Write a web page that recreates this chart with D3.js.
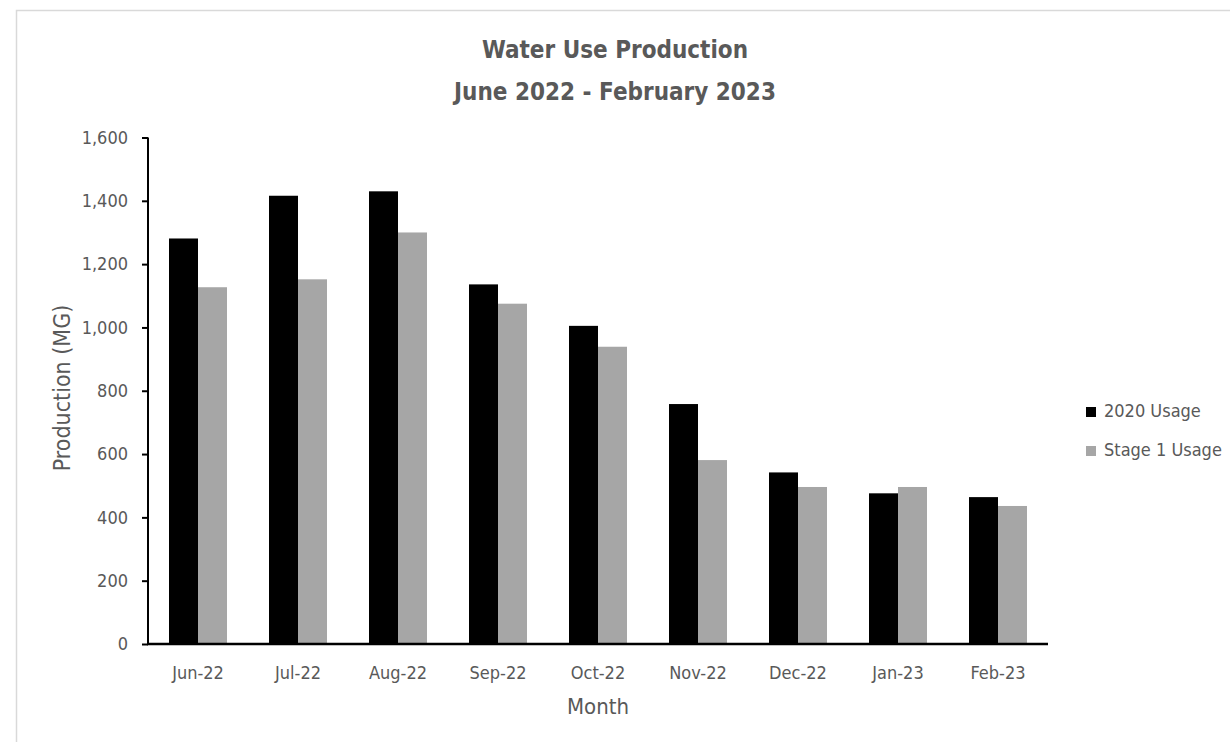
<!DOCTYPE html>
<html lang="en">
<head>
<meta charset="utf-8">
<title>Water Use Production</title>
<style type="text/css">
  body { margin: 0; background: #fff; }
  .txt { font-family: "Liberation Sans Narrow", "DejaVu Sans Condensed", sans-serif; fill: #595959; }
  .axis text { font-family: "Liberation Sans Narrow", "DejaVu Sans Condensed", sans-serif; fill: #595959; font-size: 18px; }
  .axis path, .axis line { stroke: #000; }
</style>
<script src="https://cdn.jsdelivr.net/npm/d3@7"></script>
</head>
<body>
<script type="text/javascript">

var w = 1230;
var h = 742;

// data
var months = ["Jun-22","Jul-22","Aug-22","Sep-22","Oct-22","Nov-22","Dec-22","Jan-23","Feb-23"];
var usage2020 = [1281, 1416, 1430, 1136, 1005, 758, 542, 476, 464];
var stage1 = [1127, 1152, 1300, 1075, 939, 581, 496, 496, 436];
var series = ["2020 Usage", "Stage 1 Usage"];
var yTicks = [0, 200, 400, 600, 800, 1000, 1200, 1400, 1600];

var colors = ["#000000", "#a6a6a6"];

var svg = d3.select("body")
  .append("svg")
  .attr("width", w)
  .attr("height", h);

// frame
svg.append("rect")
  .attr("x", 16.5).attr("y", 10.5)
  .attr("width", 1300).attr("height", 900)
  .attr("fill", "none")
  .attr("stroke", "#d9d9d9")
  .attr("stroke-width", 1.5);

var x0 = d3.scaleBand()
  .domain(months)
  .range([148, 1048])
  .paddingInner(0.42)
  .paddingOuter(0.21);

var x1 = d3.scaleBand()
  .domain(series)
  .range([0, x0.bandwidth()]);

var y = d3.scaleLinear()
  .domain([0, 1600])
  .range([644, 137.5]);

var rows = months.map(function(m, i) {
  return {month: m, vals: [usage2020[i], stage1[i]]};
});

var groups = svg.selectAll("g.month")
  .data(rows)
  .enter()
  .append("g")
  .attr("class", "month")
  .attr("transform", function(d) { return "translate(" + x0(d.month) + ",0)"; });

groups.selectAll("rect")
  .data(function(d) { return d.vals.map(function(v, j) { return {s: series[j], v: v, j: j}; }); })
  .enter()
  .append("rect")
  .attr("x", function(d) { return x1(d.s); })
  .attr("width", x1.bandwidth())
  .attr("y", function(d) { return y(d.v); })
  .attr("height", function(d) { return y(0) - y(d.v); })
  .attr("fill", function(d) { return colors[d.j]; });

// y axis
var yAxis = svg.append("g")
  .attr("class", "axis")
  .attr("transform", "translate(148,0)")
  .call(d3.axisLeft(y).tickValues(yTicks).tickSize(6).tickPadding(14).tickFormat(d3.format(",")));
yAxis.select(".domain").attr("stroke-width", 2).attr("d", "M0,137.5V644");
yAxis.selectAll(".tick line").attr("stroke-width", 2);

// x axis
var xAxis = svg.append("g")
  .attr("class", "axis")
  .attr("transform", "translate(0,644)")
  .call(d3.axisBottom(x0).tickSize(0).tickPadding(22));
xAxis.select(".domain").attr("stroke-width", 2.5).attr("d", "M147,0H1048");

// titles
svg.append("text").attr("class", "txt")
  .attr("x", 615).attr("y", 58)
  .attr("text-anchor", "middle")
  .attr("font-size", 24).attr("font-weight", "bold")
  .text("Water Use Production");
svg.append("text").attr("class", "txt")
  .attr("x", 615).attr("y", 100)
  .attr("text-anchor", "middle")
  .attr("font-size", 24).attr("font-weight", "bold")
  .text("June 2022 - February 2023");

svg.append("text").attr("class", "txt")
  .attr("x", 598).attr("y", 714)
  .attr("text-anchor", "middle")
  .attr("font-size", 22)
  .text("Month");

svg.append("text").attr("class", "txt")
  .attr("transform", "translate(70,388) rotate(-90)")
  .attr("text-anchor", "middle")
  .attr("font-size", 23)
  .text("Production (MG)");

// legend
var legend = svg.selectAll("g.legend")
  .data(series)
  .enter()
  .append("g")
  .attr("class", "legend")
  .attr("transform", function(d, i) { return "translate(1086," + (407 + i * 39) + ")"; });
legend.append("rect")
  .attr("width", 10).attr("height", 10)
  .attr("fill", function(d, i) { return colors[i]; });
legend.append("text").attr("class", "txt")
  .attr("x", 18).attr("y", 10)
  .attr("font-size", 18)
  .text(function(d) { return d; });

</script>
</body>
</html>
